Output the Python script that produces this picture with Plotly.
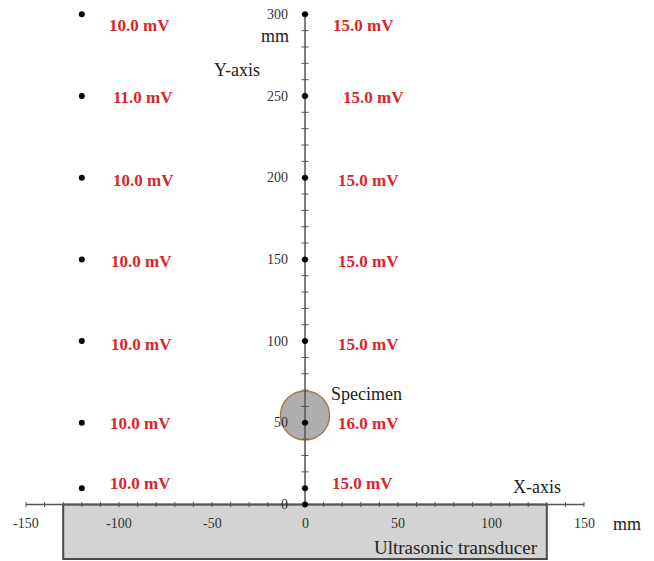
import plotly.graph_objects as go

# ---------------- data ----------------
y_levels = [10, 50, 100, 150, 200, 250, 300]          # mm, measuring heights
left_x = -120                                         # mm, left probe column
right_x = 0                                           # mm, right probe column (on Y axis)
left_mv = [10.0, 10.0, 10.0, 10.0, 10.0, 11.0, 10.0]  # mV
right_mv = [15.0, 16.0, 15.0, 15.0, 15.0, 15.0, 15.0] # mV
x_tick_values = [-150, -100, -50, 0, 50, 100, 150]
y_tick_values = [0, 50, 100, 150, 200, 250, 300]
transducer_x = [-130, 130]
specimen_center = [0, 54.5]

# ---------------- layout helpers (pixel scale of the drawing) ----------------
W, H = 654, 561
X0_PX, SX = 305.0, 1.86     # pixel of x=0, px per mm
Y0_PX, SY = 504.5, 1.634    # pixel of y=0, px per mm
xr = [-X0_PX / SX, (W - X0_PX) / SX]
yr = [-(H - Y0_PX) / SY, Y0_PX / SY]

def px_x(p):  # pixel -> data x
    return (p - X0_PX) / SX

def px_y(p):
    return (Y0_PX - p) / SY

SERIF = "Liberation Serif, Times New Roman, serif"
RED = "#d8262b"
DARK = "#222222"
AXIS = "#555555"

fig = go.Figure()

# transducer box
fig.add_shape(type="rect", x0=transducer_x[0], x1=transducer_x[1], y0=px_y(559), y1=0,
              fillcolor="#d3d3d3", line=dict(color="#4a4a4a", width=2), layer="below")

# specimen circle
rx, ry = 24.5 / SX, 24.5 / SY
fig.add_shape(type="circle", x0=specimen_center[0] - rx, x1=specimen_center[0] + rx,
              y0=specimen_center[1] - ry, y1=specimen_center[1] + ry,
              fillcolor="rgba(165,165,165,0.9)", line=dict(color="#a67c52", width=1.5),
              layer="below")

# X axis line and ticks
fig.add_trace(go.Scatter(x=[-150, 150], y=[0, 0], mode="lines",
                         line=dict(color=AXIS, width=1.3), hoverinfo="skip", showlegend=False))
xt = list(range(-150, 151, 10))
tx, ty = [], []
for t in xt:
    tx += [t, t, None]
    ty += [-2.5 / SY, 2.5 / SY, None]
fig.add_trace(go.Scatter(x=tx, y=ty, mode="lines", line=dict(color=AXIS, width=1),
                         hoverinfo="skip", showlegend=False))

# Y axis line and ticks
fig.add_trace(go.Scatter(x=[0, 0], y=[0, 300], mode="lines",
                         line=dict(color=AXIS, width=1.5), hoverinfo="skip", showlegend=False))
yt = list(range(0, 301, 10))
ux, uy = [], []
for t in yt:
    ux += [-3.5 / SX, 3.5 / SX, None]
    uy += [t, t, None]
fig.add_trace(go.Scatter(x=ux, y=uy, mode="lines", line=dict(color=AXIS, width=1),
                         hoverinfo="skip", showlegend=False))

# measuring points
fig.add_trace(go.Scatter(x=[left_x] * len(y_levels), y=y_levels, mode="markers",
                         marker=dict(color="black", size=6), showlegend=False))
fig.add_trace(go.Scatter(x=[right_x] * len(y_levels) + [0], y=y_levels + [0], mode="markers",
                         marker=dict(color="black", size=6), showlegend=False))

annotations = []

# mV labels (per-row pixel nudges)
left_dx = [-1, -1, 0, 0, 2, 2, -2]
right_dx = [-6, 0, 0, 0, 0, 5, -5]
dy = [-5, 1, 3, 2, 3, 1, 11]
for i, yv in enumerate(y_levels):
    annotations.append(dict(x=left_x, y=yv, text=f"{left_mv[i]:.1f} mV", showarrow=False,
                            xanchor="left", yanchor="middle",
                            xshift=(109 - (X0_PX + left_x * SX)) + left_dx[i], yshift=-dy[i],
                            font=dict(family=SERIF, size=17, color=RED, weight="bold")))
    annotations.append(dict(x=right_x, y=yv, text=f"{right_mv[i]:.1f} mV", showarrow=False,
                            xanchor="left", yanchor="middle",
                            xshift=31 + right_dx[i], yshift=-dy[i],
                            font=dict(family=SERIF, size=17, color=RED, weight="bold")))

# x tick labels
for v in x_tick_values:
    annotations.append(dict(x=v, y=px_y(523.5), text=str(v), showarrow=False,
                            xanchor="center", yanchor="middle",
                            font=dict(family=SERIF, size=14, color="#333333")))
# y tick labels
for v in y_tick_values:
    annotations.append(dict(x=px_x(290), y=v, text=str(v), showarrow=False,
                            xanchor="right", yanchor="middle",
                            font=dict(family=SERIF, size=14, color="#333333")))

# other texts
texts = [
    ("mm", px_x(291), px_y(36), "right", 18),
    ("Y-axis", px_x(237), px_y(70), "center", 18),
    ("X-axis", px_x(537), px_y(487), "center", 18),
    ("mm", px_x(627), px_y(523.5), "center", 18),
    ("Specimen", px_x(329), px_y(394), "left", 18),
    ("Ultrasonic transducer", px_x(540), px_y(547), "right", 19),
]
for t, x, y, xa, s in texts:
    annotations.append(dict(x=x, y=y, text=t, showarrow=False, xanchor=xa, yanchor="middle",
                            font=dict(family=SERIF, size=s, color=DARK)))

fig.update_layout(
    width=W, height=H,
    margin=dict(l=0, r=0, t=0, b=0),
    paper_bgcolor="white", plot_bgcolor="white",
    xaxis=dict(range=xr, visible=False, fixedrange=True),
    yaxis=dict(range=yr, visible=False, fixedrange=True),
    annotations=annotations,
    showlegend=False,
)

fig.write_html("out.html", config={"displayModeBar": False},
               post_script="document.body.style.margin='0';document.body.style.overflow='hidden';")
